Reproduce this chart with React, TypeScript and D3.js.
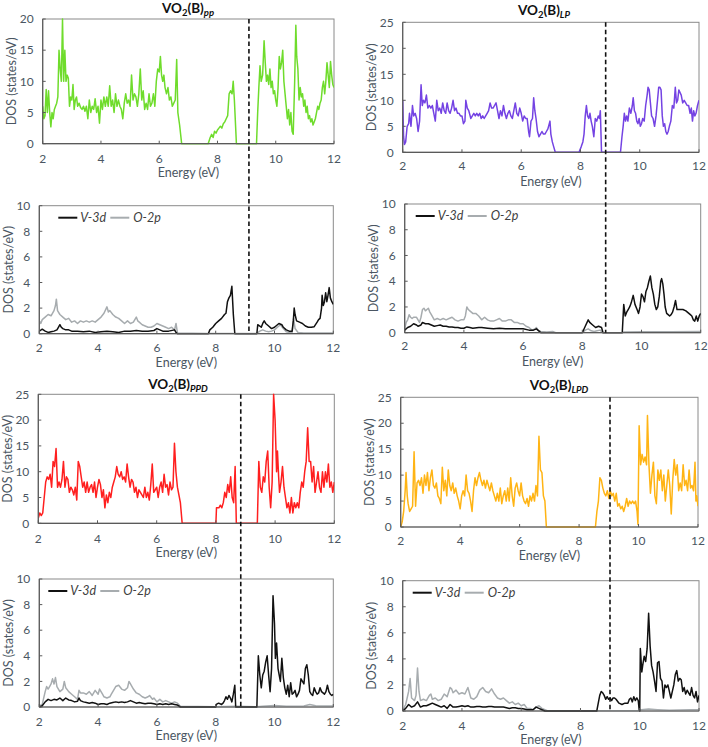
import React from 'react';
import * as d3 from 'd3';

type P = [number, number];

const ENERGY_TICKS = [2, 4, 6, 8, 10, 12];

// ---- VO2(B)pp ----
const ppTotal: P[] = [[2.0,6],[2.04,4],[2.08,4.5],[2.12,8.7],[2.16,5],[2.2,8.5],[2.24,5],[2.28,2.7],[2.32,5],[2.36,4],[2.4,5.5],[2.44,6],[2.48,6.5],[2.52,7.5],[2.56,15],[2.6,12],[2.64,10],[2.68,20],[2.72,10],[2.76,15],[2.8,10],[2.84,11],[2.88,10.5],[2.92,6],[2.96,7.5],[3.0,7],[3.04,9.5],[3.08,5.5],[3.12,7],[3.16,7.5],[3.2,6],[3.25,6.5],[3.3,5.8],[3.35,5.5],[3.4,6],[3.45,5.2],[3.5,6],[3.55,4],[3.6,7],[3.65,5],[3.7,6],[3.75,5.5],[3.8,7.2],[3.85,5],[3.9,6],[3.95,3.3],[4.0,7],[4.05,5.5],[4.1,7.5],[4.15,6],[4.2,7.5],[4.25,6],[4.3,9.3],[4.35,6],[4.4,7],[4.45,5],[4.5,8],[4.55,6],[4.6,7],[4.65,6],[4.7,5.5],[4.75,4],[4.8,6.5],[4.85,8],[4.9,6.5],[4.95,7],[5.0,6],[5.05,11],[5.1,7],[5.15,8],[5.2,7.5],[5.25,6],[5.3,8],[5.35,12],[5.4,7],[5.45,8.5],[5.5,5.5],[5.55,6.5],[5.6,5.5],[5.65,8],[5.7,6],[5.75,6.5],[5.8,8],[5.85,6],[5.9,10],[5.95,12],[6.0,11.5],[6.04,14],[6.08,11],[6.12,10],[6.16,11],[6.2,9],[6.25,8],[6.3,9],[6.35,7],[6.4,7.5],[6.45,6],[6.5,6.5],[6.55,7],[6.6,13.5],[6.64,5],[6.7,3],[6.77,0],[7.68,0],[7.75,1],[7.8,1.5],[7.85,1],[7.9,2],[7.95,1.7],[8.0,2.2],[8.05,2.5],[8.1,2.8],[8.15,2.5],[8.2,3.2],[8.25,3.5],[8.3,4],[8.35,4.5],[8.4,8],[8.45,8.5],[8.5,8],[8.54,10],[8.58,7],[8.65,0],[9.34,0],[9.38,5],[9.42,9],[9.46,12.5],[9.5,10],[9.55,11],[9.6,16.5],[9.64,13],[9.68,10],[9.72,11],[9.76,9.5],[9.8,12],[9.84,9],[9.88,10],[9.92,8],[9.96,8.5],[10.0,7],[10.04,6],[10.08,9],[10.12,14],[10.16,12],[10.2,13],[10.24,15],[10.28,10],[10.32,8],[10.36,6],[10.4,4],[10.44,5.5],[10.48,3],[10.52,5],[10.56,2],[10.6,1.5],[10.65,10],[10.69,19],[10.72,14],[10.76,12],[10.8,7],[10.84,9],[10.88,7.5],[10.92,8],[10.96,6],[11.0,7],[11.04,5],[11.08,6],[11.12,4],[11.16,4.5],[11.2,3.5],[11.24,4],[11.28,3],[11.32,3.5],[11.36,4],[11.4,5],[11.44,6],[11.48,5.5],[11.52,6.5],[11.56,7],[11.6,9],[11.64,10],[11.68,8],[11.72,10],[11.76,13],[11.8,11],[11.84,9],[11.88,13.2],[11.92,11],[11.96,9.5],[12.0,9]];

const ppV3d: P[] = [[2.0,0.2],[2.1,0.35],[2.2,0.2],[2.3,0.1],[2.4,0.15],[2.5,0.2],[2.6,0.3],[2.65,0.5],[2.7,0.7],[2.75,0.5],[2.8,0.4],[2.9,0.3],[3.0,0.3],[3.1,0.2],[3.3,0.2],[3.5,0.15],[3.7,0.2],[3.9,0.1],[4.1,0.15],[4.3,0.2],[4.5,0.15],[4.7,0.1],[4.9,0.2],[5.1,0.2],[5.3,0.25],[5.5,0.2],[5.7,0.2],[5.9,0.25],[6.0,0.4],[6.1,0.3],[6.2,0.2],[6.4,0.2],[6.6,0.3],[6.65,0.1],[6.7,0],[7.75,0],[7.8,0.3],[7.9,0.5],[8.0,0.8],[8.1,1.0],[8.2,1.2],[8.3,1.5],[8.35,1.6],[8.4,2.5],[8.45,2.8],[8.5,3.0],[8.55,3.7],[8.6,1.5],[8.65,0],[9.4,0],[9.43,0.7],[9.5,0.6],[9.55,0.5],[9.6,0.8],[9.65,1.0],[9.7,0.8],[9.8,0.6],[9.9,0.4],[10.0,0.5],[10.1,0.7],[10.15,0.8],[10.25,0.7],[10.3,0.5],[10.4,0.3],[10.5,0.2],[10.6,0.2],[10.64,1.0],[10.67,2.0],[10.7,1.5],[10.75,1.0],[10.85,0.9],[10.95,0.8],[11.05,0.6],[11.15,0.5],[11.25,0.5],[11.35,0.55],[11.45,0.9],[11.5,1.1],[11.55,1.2],[11.6,2.0],[11.62,3.0],[11.66,2.2],[11.7,2.5],[11.74,3.2],[11.78,2.5],[11.82,3.0],[11.86,3.6],[11.9,2.8],[11.95,2.5],[12.0,2.3]];

const ppO2p: P[] = [[2.0,1.0],[2.05,0.8],[2.1,1.1],[2.2,1.3],[2.3,1.5],[2.4,1.4],[2.5,1.8],[2.55,2.2],[2.58,2.7],[2.62,1.8],[2.7,1.5],[2.8,1.3],[2.9,1.1],[3.0,1.2],[3.1,0.9],[3.2,1.0],[3.3,0.8],[3.4,1.0],[3.5,0.9],[3.6,1.0],[3.7,0.9],[3.8,1.0],[3.9,0.9],[4.0,1.1],[4.1,1.3],[4.2,1.6],[4.3,2.1],[4.35,1.7],[4.4,1.8],[4.5,1.5],[4.6,1.3],[4.7,1.2],[4.8,1.0],[4.9,0.8],[5.0,1.0],[5.1,0.8],[5.2,0.9],[5.3,1.3],[5.35,1.0],[5.4,0.9],[5.5,0.7],[5.6,0.6],[5.7,0.5],[5.8,0.5],[5.9,0.6],[6.0,0.8],[6.1,0.7],[6.2,0.6],[6.3,0.5],[6.4,0.4],[6.5,0.5],[6.6,0.3],[6.65,0.8],[6.7,0.05],[7.7,0.02],[8.7,0.02],[9.4,0.02],[9.5,0.2],[9.6,0.3],[9.7,0.2],[9.8,0.15],[9.9,0.2],[10.0,0.3],[10.1,0.5],[10.2,0.7],[10.3,0.4],[10.4,0.15],[10.5,0.1],[10.6,0.1],[10.65,1.2],[10.7,0.4],[10.8,0.1],[11.0,0.05],[12.0,0.05]];

// ---- VO2(B)LP ----
const lpTotal: P[] = [[2.0,10],[2.03,3],[2.06,1.5],[2.1,2],[2.15,5],[2.2,5.5],[2.23,7.5],[2.28,5],[2.33,9],[2.37,7],[2.42,7.5],[2.47,6.5],[2.52,4],[2.57,6],[2.62,13],[2.66,9],[2.7,10],[2.75,9.5],[2.8,11],[2.85,8.5],[2.9,9],[2.95,8.5],[3.0,9],[3.05,7.5],[3.1,6],[3.15,10],[3.2,8],[3.25,8.5],[3.3,7.5],[3.35,9.5],[3.4,8],[3.45,7.5],[3.5,9.5],[3.55,8],[3.6,7.5],[3.65,8.5],[3.7,10],[3.75,8],[3.8,8.5],[3.85,7.5],[3.9,7.5],[3.95,7],[4.0,7],[4.05,5.5],[4.1,6],[4.13,10],[4.18,8.5],[4.23,8],[4.3,6.5],[4.35,7],[4.4,7.5],[4.45,7],[4.5,7.5],[4.55,7],[4.6,7.5],[4.65,6.5],[4.7,7],[4.75,6.5],[4.8,7],[4.85,7.5],[4.9,8],[4.95,9.5],[5.0,8.5],[5.05,8.5],[5.1,9],[5.15,9.5],[5.2,8],[5.25,6.5],[5.3,8],[5.35,7],[5.4,9],[5.45,7.5],[5.5,6.5],[5.55,7.5],[5.6,8],[5.65,7],[5.7,6.5],[5.75,8],[5.8,9.5],[5.85,7.5],[5.9,7],[5.95,8.5],[6.0,7.5],[6.05,6],[6.1,7],[6.15,6.5],[6.2,6.5],[6.25,4],[6.28,3],[6.33,6],[6.38,6.5],[6.42,10.5],[6.46,8],[6.5,6.5],[6.55,4],[6.6,3],[6.65,3.5],[6.7,4],[6.75,3.5],[6.8,3.5],[6.85,4],[6.9,4.5],[6.97,6],[7.0,3.5],[7.05,2],[7.1,1],[7.15,0],[7.95,0],[8.02,1],[8.08,2],[8.12,3.5],[8.16,7],[8.2,9],[8.24,7],[8.28,6.5],[8.32,7.5],[8.36,6],[8.4,5],[8.45,3],[8.5,6.5],[8.55,6],[8.6,7],[8.64,6.5],[8.67,8],[8.71,0],[9.35,0],[9.4,3],[9.44,5],[9.48,7.5],[9.52,6],[9.56,7],[9.6,6],[9.65,8.5],[9.7,7.5],[9.75,9],[9.78,10.5],[9.82,8],[9.86,7.5],[9.9,6],[9.94,5.5],[9.98,6.5],[10.02,5],[10.06,5.5],[10.1,6.5],[10.15,6],[10.2,9],[10.25,11],[10.28,12.5],[10.32,12],[10.36,9.5],[10.4,7],[10.45,6.5],[10.5,5],[10.55,7],[10.6,10],[10.64,12.5],[10.68,12.5],[10.72,12],[10.76,7],[10.8,5],[10.84,5.5],[10.88,4],[10.92,3.5],[10.96,4],[11.0,5],[11.05,6],[11.1,9],[11.15,8.5],[11.2,12.5],[11.24,9.5],[11.28,10],[11.32,12],[11.36,11.5],[11.4,11],[11.45,9.5],[11.5,10],[11.55,9.5],[11.6,9],[11.65,9],[11.7,7.5],[11.74,8.5],[11.78,6],[11.82,8],[11.86,7],[11.9,7.5],[11.95,9],[12.0,10]];

const lpV3d: P[] = [[2.0,0.2],[2.1,0.4],[2.2,0.5],[2.3,0.7],[2.4,0.6],[2.45,0.5],[2.55,0.6],[2.6,0.8],[2.7,0.7],[2.8,0.7],[2.9,0.6],[3.0,0.5],[3.1,0.55],[3.2,0.6],[3.3,0.5],[3.4,0.5],[3.5,0.45],[3.6,0.45],[3.7,0.4],[3.8,0.4],[3.9,0.35],[4.0,0.35],[4.1,0.45],[4.2,0.4],[4.3,0.35],[4.5,0.4],[4.6,0.4],[4.8,0.35],[5.0,0.3],[5.2,0.35],[5.4,0.3],[5.6,0.3],[5.8,0.3],[6.0,0.3],[6.2,0.2],[6.35,0.2],[6.45,0.3],[6.55,0.1],[6.6,0],[8.0,0],[8.1,0.5],[8.2,1.0],[8.25,0.8],[8.35,0.6],[8.45,0.4],[8.55,0.5],[8.65,0.4],[8.7,0],[9.35,0],[9.4,2.2],[9.45,1.3],[9.5,1.6],[9.55,1.8],[9.6,2.0],[9.65,2.3],[9.72,2.9],[9.78,2.2],[9.85,1.8],[9.9,1.5],[9.95,2.0],[10.0,3.0],[10.05,2.8],[10.1,2.4],[10.15,3.2],[10.2,3.5],[10.25,4.0],[10.3,4.4],[10.35,3.5],[10.4,3.0],[10.45,2.2],[10.5,1.8],[10.55,2.0],[10.6,2.8],[10.65,4.0],[10.68,4.2],[10.72,3.8],[10.76,3.0],[10.8,2.0],[10.85,1.5],[10.9,1.4],[10.95,1.3],[11.0,1.4],[11.05,1.6],[11.1,2.0],[11.15,2.5],[11.2,1.8],[11.3,1.8],[11.4,1.8],[11.5,1.7],[11.55,1.6],[11.6,1.5],[11.65,1.4],[11.7,1.3],[11.75,1.0],[11.8,0.9],[11.85,1.3],[11.9,0.9],[11.95,1.3],[12.0,1.5]];

const lpO2p: P[] = [[2.0,0.3],[2.05,0.8],[2.1,1.0],[2.15,1.4],[2.2,1.2],[2.25,1.1],[2.3,1.2],[2.4,1.2],[2.5,0.8],[2.55,1.2],[2.6,1.8],[2.65,1.9],[2.7,1.7],[2.75,1.8],[2.8,1.9],[2.85,1.6],[2.9,1.4],[3.0,1.0],[3.1,1.1],[3.2,1.0],[3.3,1.1],[3.4,1.0],[3.5,1.1],[3.6,1.2],[3.7,1.0],[3.8,0.9],[3.9,1.0],[4.0,1.0],[4.05,1.3],[4.1,2.0],[4.15,1.8],[4.2,1.7],[4.3,1.5],[4.4,1.5],[4.5,1.3],[4.6,1.0],[4.7,1.2],[4.8,1.0],[4.9,0.9],[5.0,0.9],[5.1,1.0],[5.2,1.1],[5.3,0.9],[5.4,0.9],[5.5,1.0],[5.6,1.0],[5.7,0.8],[5.8,0.8],[5.9,0.7],[6.0,0.7],[6.1,0.5],[6.2,0.4],[6.3,0.2],[6.4,0.3],[6.45,0.4],[6.5,0.2],[6.6,0.1],[6.8,0.05],[7.0,0.1],[7.1,0],[8.0,0],[8.1,0.2],[8.2,0.3],[8.3,0.15],[8.4,0.1],[8.5,0.15],[8.6,0.2],[8.7,0],[9.35,0],[9.4,0.05],[10.0,0.08],[11.0,0.08],[12.0,0.1]];

// ---- VO2(B)PPD ----
const ppdTotal: P[] = [[2.0,1],[2.05,2],[2.1,1.5],[2.15,2],[2.2,5],[2.25,8],[2.3,9],[2.35,8.5],[2.4,9.5],[2.45,7],[2.5,12],[2.55,11],[2.6,14.5],[2.65,7],[2.7,8],[2.75,7],[2.8,8.5],[2.85,12],[2.9,7],[2.95,9],[3.0,8.5],[3.05,6],[3.1,7],[3.15,6.5],[3.2,5.5],[3.25,7],[3.3,4.5],[3.35,12],[3.4,11],[3.45,9],[3.5,7],[3.55,8],[3.6,6],[3.65,8],[3.7,6],[3.75,7],[3.8,7.5],[3.85,6],[3.9,8],[3.95,5],[4.0,7],[4.05,8.5],[4.1,7.5],[4.15,5],[4.2,6.5],[4.25,3],[4.3,5.5],[4.35,4],[4.4,6],[4.45,5],[4.5,7],[4.55,8],[4.6,9],[4.65,11],[4.7,9.5],[4.75,9],[4.8,10],[4.85,8.5],[4.9,9],[4.95,8],[5.0,11.5],[5.05,9],[5.1,7],[5.15,8.5],[5.2,8],[5.25,6],[5.3,7],[5.35,5],[5.4,6.5],[5.45,6],[5.5,5.5],[5.55,5],[5.6,7],[5.65,5],[5.7,6],[5.75,4.5],[5.8,7.5],[5.85,11.5],[5.9,6],[5.95,6.5],[6.0,7],[6.05,5],[6.1,7],[6.15,8],[6.2,6],[6.25,9.5],[6.3,7],[6.35,7.5],[6.4,5.5],[6.45,8],[6.5,6.5],[6.55,7],[6.6,15.5],[6.65,10],[6.7,7],[6.75,5.5],[6.8,4],[6.86,0],[8.0,0],[8.02,3],[8.1,3],[8.15,3.5],[8.2,3],[8.25,4],[8.3,6],[8.35,5],[8.4,7.5],[8.45,6],[8.5,9],[8.55,5],[8.6,4],[8.65,11],[8.69,0],[9.4,0],[9.45,12],[9.5,7],[9.55,6],[9.6,9],[9.65,8],[9.7,12],[9.75,14],[9.8,7],[9.85,3],[9.9,8],[9.95,25],[10.0,20],[10.05,10],[10.08,14],[10.12,9],[10.15,6],[10.2,8],[10.25,11],[10.3,7],[10.35,5],[10.4,3],[10.45,4],[10.5,2],[10.55,5],[10.6,2],[10.65,4],[10.7,3],[10.75,4],[10.8,3],[10.85,6],[10.9,8],[10.95,7],[11.0,10],[11.05,12],[11.1,18.5],[11.15,12],[11.2,12],[11.25,8],[11.3,11],[11.35,6],[11.4,8],[11.45,10],[11.5,7],[11.55,6],[11.6,10],[11.65,7],[11.7,10],[11.75,8],[11.8,11.5],[11.85,7],[11.9,8],[11.95,6],[12.0,8]];

const ppdV3d: P[] = [[2.0,0],[2.1,0.1],[2.2,0.4],[2.3,0.6],[2.4,0.5],[2.5,0.6],[2.6,0.55],[2.7,0.7],[2.8,0.5],[2.9,0.7],[3.0,0.55],[3.1,0.5],[3.2,0.4],[3.3,0.45],[3.35,0.7],[3.4,0.5],[3.5,0.4],[3.6,0.35],[3.7,0.3],[3.8,0.35],[3.9,0.3],[4.0,0.2],[4.1,0.25],[4.2,0.25],[4.3,0.2],[4.4,0.3],[4.5,0.35],[4.6,0.4],[4.7,0.35],[4.8,0.4],[4.9,0.35],[5.0,0.4],[5.1,0.5],[5.2,0.4],[5.3,0.3],[5.4,0.35],[5.5,0.3],[5.6,0.25],[5.7,0.3],[5.8,0.3],[5.9,0.25],[6.0,0.2],[6.1,0.25],[6.2,0.2],[6.3,0.25],[6.4,0.2],[6.5,0.25],[6.6,0.2],[6.7,0.15],[6.8,0],[8.0,0],[8.02,0.2],[8.1,0.3],[8.2,0.2],[8.25,0.3],[8.3,0.5],[8.35,0.8],[8.4,0.6],[8.45,0.9],[8.5,0.7],[8.55,0.4],[8.6,1.0],[8.65,1.7],[8.68,0],[9.4,0],[9.45,4.0],[9.5,2.5],[9.55,1.5],[9.6,2.5],[9.65,2.8],[9.7,3.5],[9.75,4.0],[9.8,2.5],[9.85,1.2],[9.9,3.0],[9.95,8.7],[10.0,6.5],[10.03,3.8],[10.07,5.0],[10.12,3.0],[10.16,2.5],[10.2,2.0],[10.25,3.8],[10.3,2.3],[10.35,1.5],[10.4,1.0],[10.45,1.7],[10.5,0.8],[10.55,1.9],[10.6,1.0],[10.65,1.1],[10.7,1.3],[10.75,0.8],[10.8,1.0],[10.85,1.3],[10.9,2.2],[10.95,2.0],[11.0,1.8],[11.05,3.0],[11.1,3.3],[11.15,2.5],[11.2,1.2],[11.25,1.0],[11.3,0.9],[11.35,1.5],[11.4,1.2],[11.45,1.0],[11.5,1.1],[11.55,1.5],[11.6,1.2],[11.65,1.1],[11.7,1.0],[11.75,1.2],[11.8,1.7],[11.85,1.2],[11.9,1.0],[11.95,0.9],[12.0,1.0]];

const ppdO2p: P[] = [[2.0,0.1],[2.1,0.2],[2.2,1.2],[2.25,1.6],[2.3,1.4],[2.35,1.6],[2.4,1.8],[2.45,2.2],[2.5,1.8],[2.55,2.3],[2.6,1.6],[2.65,1.4],[2.7,1.2],[2.8,1.4],[2.85,2.0],[2.9,1.5],[3.0,1.2],[3.1,1.0],[3.2,0.8],[3.3,0.6],[3.35,1.3],[3.4,1.1],[3.5,1.1],[3.6,1.0],[3.7,1.2],[3.8,0.9],[3.9,1.3],[4.0,1.0],[4.05,1.4],[4.1,1.2],[4.15,1.0],[4.2,0.8],[4.3,0.7],[4.4,0.8],[4.45,1.0],[4.5,1.2],[4.6,1.6],[4.7,1.7],[4.8,1.4],[4.9,1.3],[5.0,1.5],[5.05,2.0],[5.1,1.8],[5.2,1.4],[5.3,1.1],[5.4,1.0],[5.5,0.8],[5.6,0.7],[5.7,0.8],[5.75,0.9],[5.85,0.6],[5.9,0.7],[6.0,0.4],[6.1,0.6],[6.2,0.4],[6.3,0.5],[6.4,0.4],[6.5,0.3],[6.6,0.4],[6.7,0.3],[6.8,0.05],[8.0,0.02],[8.7,0.05],[9.4,0.02],[9.6,0.05],[10.0,0.12],[10.4,0.05],[11.0,0.08],[11.2,0.2],[11.4,0.1],[12.0,0.08]];

// ---- VO2(B)LPD ----
const lpdTotal: P[] = [[2.0,0],[2.05,1],[2.1,3],[2.15,7],[2.18,10.5],[2.22,6],[2.25,4.5],[2.3,3],[2.35,3.5],[2.4,4],[2.45,14.5],[2.5,4],[2.55,8.5],[2.6,9],[2.65,8],[2.7,9.5],[2.75,6.5],[2.8,10],[2.85,8],[2.9,10.5],[2.95,7],[3.0,9.5],[3.05,11],[3.1,8],[3.15,7.5],[3.2,8.5],[3.25,6],[3.3,5.5],[3.35,4.5],[3.4,11.5],[3.45,7],[3.5,9],[3.55,6],[3.6,11],[3.65,8],[3.7,7],[3.75,8.5],[3.8,6.5],[3.85,7.5],[3.9,6],[3.95,5],[4.0,3.5],[4.05,6],[4.1,7],[4.15,6],[4.2,10],[4.25,7],[4.3,6.5],[4.35,5],[4.4,3],[4.45,7],[4.5,9.5],[4.55,8],[4.6,9.5],[4.65,10.5],[4.7,9],[4.75,8],[4.8,9],[4.85,7.5],[4.9,9],[4.95,8],[5.0,7],[5.05,8.5],[5.1,7],[5.15,6],[5.2,5],[5.25,6.5],[5.3,5],[5.35,7.5],[5.4,4.5],[5.45,6],[5.5,7],[5.55,5],[5.6,7.5],[5.65,5],[5.7,9.5],[5.75,6],[5.8,4],[5.85,7.5],[5.9,8.5],[5.95,7],[6.0,6],[6.05,8.5],[6.1,6],[6.15,5],[6.2,4.5],[6.25,5.5],[6.3,4],[6.35,6],[6.4,5],[6.45,6.5],[6.5,5],[6.55,8],[6.6,6],[6.65,17.5],[6.7,11],[6.75,10.5],[6.8,6],[6.85,5],[6.9,0],[8.55,0],[8.6,3],[8.65,5],[8.7,9.5],[8.75,9],[8.8,7.5],[8.85,6.5],[8.9,6],[8.95,7],[9.0,5.5],[9.05,7],[9.1,6],[9.15,6.5],[9.2,5],[9.25,6.5],[9.3,4],[9.35,4.5],[9.4,3.5],[9.45,4],[9.5,3],[9.55,4],[9.6,5.5],[9.65,4],[9.7,5],[9.75,4.5],[9.8,5],[9.85,4.5],[9.9,5],[9.95,3],[9.98,0.5],[10.02,19.5],[10.07,12],[10.12,14],[10.17,12.5],[10.22,13.5],[10.27,12],[10.3,21.5],[10.35,12],[10.4,6.5],[10.45,10],[10.5,12.5],[10.55,6],[10.6,4.5],[10.65,11],[10.7,9],[10.75,11],[10.8,7],[10.85,10],[10.9,5],[10.95,8],[11.0,11],[11.05,8],[11.1,2.5],[11.15,9],[11.2,13],[11.25,10],[11.3,12],[11.35,7],[11.4,8.5],[11.45,7],[11.5,12],[11.55,8],[11.6,9],[11.65,7],[11.7,11],[11.75,7.5],[11.8,8],[11.85,7],[11.9,12.5],[11.93,5],[11.96,6],[12.0,4]];

const lpdV3d: P[] = [[2.0,0],[2.1,0.2],[2.2,0.5],[2.3,0.3],[2.4,0.4],[2.5,0.7],[2.6,0.3],[2.7,0.4],[2.8,0.4],[2.9,0.5],[3.0,0.6],[3.1,0.5],[3.2,0.4],[3.3,0.3],[3.4,0.4],[3.5,0.2],[3.6,0.5],[3.7,0.3],[3.8,0.3],[3.9,0.35],[4.0,0.4],[4.1,0.35],[4.2,0.4],[4.3,0.3],[4.4,0.3],[4.5,0.35],[4.6,0.35],[4.7,0.3],[4.8,0.3],[4.9,0.35],[5.0,0.35],[5.1,0.3],[5.2,0.3],[5.3,0.3],[5.4,0.3],[5.5,0.25],[5.6,0.2],[5.7,0.25],[5.8,0.25],[5.9,0.2],[6.0,0.2],[6.1,0.15],[6.2,0.1],[6.3,0.1],[6.4,0.1],[6.5,0.3],[6.6,0.2],[6.7,0.1],[6.8,0],[8.55,0],[8.6,0.6],[8.65,1.2],[8.7,1.5],[8.75,1.4],[8.8,1.2],[8.85,0.9],[8.9,1.1],[8.95,0.9],[9.0,1.0],[9.05,0.8],[9.1,1.0],[9.15,1.0],[9.2,0.9],[9.3,0.6],[9.4,0.5],[9.5,0.6],[9.6,0.6],[9.65,0.9],[9.7,1.0],[9.75,0.7],[9.8,1.1],[9.85,0.8],[9.9,1.0],[9.95,0.8],[9.98,0.1],[10.0,0],[10.02,4.8],[10.07,3.0],[10.1,3.5],[10.15,4.2],[10.2,3.8],[10.25,4.8],[10.3,7.5],[10.35,5.0],[10.4,3.5],[10.45,3.0],[10.5,2.3],[10.55,1.5],[10.6,3.7],[10.65,3.8],[10.7,2.5],[10.75,2.3],[10.8,1.0],[10.85,2.0],[10.9,1.8],[10.95,2.0],[11.0,1.5],[11.05,1.0],[11.1,1.5],[11.15,2.0],[11.2,2.8],[11.25,3.1],[11.3,2.3],[11.35,2.5],[11.4,2.4],[11.45,1.5],[11.5,1.8],[11.55,1.3],[11.6,1.6],[11.65,1.4],[11.7,1.2],[11.75,1.8],[11.8,1.2],[11.85,1.0],[11.9,1.5],[11.95,0.7],[12.0,1.2]];

const lpdO2p: P[] = [[2.0,0.05],[2.1,0.5],[2.15,1.0],[2.2,1.5],[2.25,2.5],[2.3,1.0],[2.4,0.8],[2.45,1.2],[2.5,3.3],[2.55,1.5],[2.6,0.8],[2.7,0.9],[2.8,0.8],[2.9,1.2],[2.95,1.3],[3.0,0.9],[3.1,1.0],[3.2,0.8],[3.3,0.9],[3.4,1.3],[3.5,1.1],[3.6,1.8],[3.65,1.7],[3.7,1.4],[3.8,1.6],[3.9,1.3],[4.0,1.4],[4.1,1.3],[4.2,1.8],[4.3,1.0],[4.4,0.9],[4.5,1.1],[4.6,1.6],[4.7,1.8],[4.8,1.5],[4.9,1.4],[5.0,1.7],[5.1,1.3],[5.2,1.0],[5.3,0.9],[5.4,1.0],[5.5,0.8],[5.6,0.6],[5.7,0.7],[5.8,0.5],[5.9,0.6],[6.0,0.4],[6.1,0.5],[6.2,0.2],[6.3,0.2],[6.4,0.1],[6.5,0.3],[6.6,0.4],[6.7,0.2],[6.8,0.1],[6.9,0],[8.6,0.02],[10.0,0.02],[10.05,0.1],[10.3,0.15],[10.6,0.1],[11.0,0.05],[11.7,0.1],[12.0,0.1]];

const SERIES_NAMES = ['V-3d', 'O-2p'];

type Line = { data: P[]; color: string; width: number };
type PanelCfg = {
  left: number; right: number; top: number; bottom: number;
  yMax: number; yStep: number;
  title?: { sub: string; x: number; y: number };
  lines: Line[];
  legend?: number;
  tickGap: number;
};

const GREEN = '#6fdc2c';
const PURPLE = '#7443e3';
const RED = '#ff1f1f';
const ORANGE = '#ffb414';
const BLACK = '#111111';
const GRAY = '#a7acaf';
const TEXT = '#4a5662';

const panels: PanelCfg[] = [
  { left: 42.7, right: 334, top: 19, bottom: 143.7, yMax: 20, yStep: 5, tickGap: 15,
    title: { sub: 'pp', x: 188, y: 12.5 }, lines: [{ data: ppTotal, color: GREEN, width: 1.5 }] },
  { left: 39.3, right: 333.3, top: 205.7, bottom: 333.7, yMax: 10, yStep: 2, tickGap: 14.5, legend: 19,
    lines: [{ data: ppO2p, color: GRAY, width: 1.5 }, { data: ppV3d, color: BLACK, width: 1.5 }] },
  { left: 402.7, right: 699, top: 22.3, bottom: 152.3, yMax: 25, yStep: 5, tickGap: 13.5,
    title: { sub: 'LP', x: 544, y: 14.5 }, lines: [{ data: lpTotal, color: PURPLE, width: 1.5 }] },
  { left: 404.7, right: 700.7, top: 204, bottom: 332.7, yMax: 10, yStep: 2, tickGap: 13.5, legend: 11,
    lines: [{ data: lpO2p, color: GRAY, width: 1.5 }, { data: lpV3d, color: BLACK, width: 1.5 }] },
  { left: 38.3, right: 334.3, top: 394.3, bottom: 523.3, yMax: 25, yStep: 5, tickGap: 15,
    title: { sub: 'PPD', x: 178, y: 389 }, lines: [{ data: ppdTotal, color: RED, width: 1.5 }] },
  { left: 400.7, right: 698, top: 397.3, bottom: 527, yMax: 25, yStep: 5, tickGap: 13.7,
    title: { sub: 'LPD', x: 559, y: 390 }, lines: [{ data: lpdTotal, color: ORANGE, width: 1.5 }] },
  { left: 39.3, right: 333.3, top: 579, bottom: 707, yMax: 10, yStep: 2, tickGap: 14.7, legend: 9,
    lines: [{ data: ppdO2p, color: GRAY, width: 1.5 }, { data: ppdV3d, color: BLACK, width: 1.5 }] },
  { left: 402.7, right: 699, top: 580.7, bottom: 711, yMax: 10, yStep: 2, tickGap: 14.7, legend: 10,
    lines: [{ data: lpdO2p, color: GRAY, width: 1.5 }, { data: lpdV3d, color: BLACK, width: 1.5 }] },
];

// Fermi-level dashed markers: energy, panel it starts in, panel it ends in
const FERMI_E = [9.08, 8.85, 8.84, 9.04];
const fermi = [
  { e: FERMI_E[0], from: 0, to: 1 },
  { e: FERMI_E[1], from: 2, to: 3 },
  { e: FERMI_E[2], from: 4, to: 6 },
  { e: FERMI_E[3], from: 5, to: 7 },
];

const FONT = 'Lato, "Open Sans", sans-serif';

function Panel({ cfg, idx }: { cfg: PanelCfg; idx: number }) {
  const x = d3.scaleLinear().domain([2, 12]).range([cfg.left, cfg.right]);
  const y = d3.scaleLinear().domain([0, cfg.yMax]).range([cfg.bottom, cfg.top]);
  const line = d3.line<P>().x((d) => x(d[0])).y((d) => y(d[1]));
  const yTicks = d3.range(0, cfg.yMax + 0.001, cfg.yStep);
  const midY = (cfg.top + cfg.bottom) / 2;
  const midX = (cfg.left + cfg.right) / 2;
  const clipId = `clip${idx}`;
  return (
    <g>
      <defs>
        <clipPath id={clipId}>
          <rect x={cfg.left} y={cfg.top - 1} width={cfg.right - cfg.left} height={cfg.bottom - cfg.top + 2} />
        </clipPath>
      </defs>
      <rect x={cfg.left} y={cfg.top} width={cfg.right - cfg.left} height={cfg.bottom - cfg.top}
        fill="white" stroke="#8a8a8a" strokeWidth={1} />
      {cfg.lines.map((l, i) => (
        <path key={i} d={line(l.data) || ''} fill="none" stroke={l.color} strokeWidth={l.width}
          strokeLinejoin="round" clipPath={`url(#${clipId})`} />
      ))}
      <line x1={cfg.left} x2={cfg.right} y1={cfg.bottom} y2={cfg.bottom} stroke="#5a5a5a" strokeWidth={1.2} />
      <line x1={cfg.left} x2={cfg.left} y1={cfg.top} y2={cfg.bottom} stroke="#5a5a5a" strokeWidth={1.2} />
      {ENERGY_TICKS.map((t) => (
        <g key={t}>
          <line x1={x(t)} x2={x(t)} y1={cfg.bottom} y2={cfg.bottom - 3} stroke="#5a5a5a" />
          <text x={x(t)} y={cfg.bottom + cfg.tickGap} dy="0.35em" textAnchor="middle"
            fontSize={12} fill={TEXT} fontFamily={FONT}>{t}</text>
        </g>
      ))}
      {yTicks.map((t) => (
        <g key={t}>
          <line x1={cfg.left} x2={cfg.left + 3} y1={y(t)} y2={y(t)} stroke="#5a5a5a" />
          <text x={cfg.left - 9} y={y(t)} dy="0.35em" textAnchor="end"
            fontSize={12} fill={TEXT} fontFamily={FONT}>{t}</text>
        </g>
      ))}
      <text x={midX} y={cfg.bottom + 29} dy="0.35em" textAnchor="middle" fontSize={12.5}
        fill={TEXT} fontFamily={FONT}>Energy (eV)</text>
      <text transform={`translate(${cfg.left - 31},${midY}) rotate(-90)`} dy="0.35em" textAnchor="middle"
        fontSize={12.5} fill={TEXT} fontFamily={FONT}>DOS (states/eV)</text>
      {cfg.title && (
        <text x={cfg.title.x} y={cfg.title.y} textAnchor="middle" fontSize={13.5} fontWeight="bold"
          fill="#111" fontFamily={FONT}>
          <tspan>VO</tspan>
          <tspan dy={3} fontSize={9.5}>2</tspan>
          <tspan dy={-3}>(B)</tspan>
          <tspan dy={3} fontSize={9.5} fontStyle="italic">{cfg.title.sub}</tspan>
        </text>
      )}
      {cfg.legend !== undefined && (
        <g fontFamily={FONT} fontSize={12.5} fontStyle="italic" fill="#404040">
          <line x1={cfg.left + cfg.legend} x2={cfg.left + cfg.legend + 19} y1={cfg.top + 12} y2={cfg.top + 12}
            stroke={BLACK} strokeWidth={2} />
          <text x={cfg.left + cfg.legend + 22} y={cfg.top + 12} dy="0.35em">{SERIES_NAMES[0]}</text>
          <line x1={cfg.left + cfg.legend + 52} x2={cfg.left + cfg.legend + 71} y1={cfg.top + 12} y2={cfg.top + 12}
            stroke={GRAY} strokeWidth={2} />
          <text x={cfg.left + cfg.legend + 75} y={cfg.top + 12} dy="0.35em">{SERIES_NAMES[1]}</text>
        </g>
      )}
    </g>
  );
}

export default function App() {
  return (
    <svg width={708} height={747} style={{ position: 'absolute', left: 0, top: 0, background: 'white' }}>
      <rect x={0} y={0} width={708} height={747} fill="white" />
      {panels.map((p, i) => <Panel key={i} cfg={p} idx={i} />)}
      {fermi.map((f, i) => {
        const a = panels[f.from];
        const b = panels[f.to];
        const xs = d3.scaleLinear().domain([2, 12]).range([a.left, a.right]);
        return (
          <line key={i} x1={xs(f.e)} x2={xs(f.e)} y1={a.top} y2={b.bottom}
            stroke="#111" strokeWidth={1.6} strokeDasharray="4.5,3" />
        );
      })}
    </svg>
  );
}
